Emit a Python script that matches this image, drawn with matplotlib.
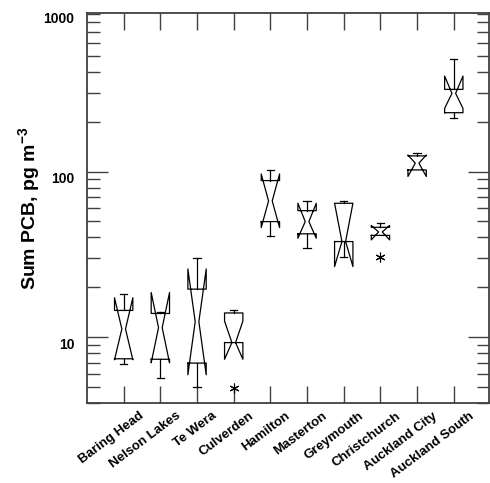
import matplotlib
matplotlib.use('Agg')
import matplotlib.pyplot as plt
from matplotlib.ticker import LogLocator, NullFormatter, FixedLocator
from matplotlib.transforms import ScaledTranslation

plt.rcParams['font.family'] = 'Liberation Sans'
plt.rcParams['mathtext.fontset'] = 'custom'
plt.rcParams['mathtext.bf'] = 'Liberation Sans:bold'
plt.rcParams['mathtext.rm'] = 'Liberation Sans:bold'
plt.rcParams['mathtext.default'] = 'bf'

# sites and notched box statistics (pg m-3)
sites = ['Baring Head', 'Nelson Lakes', 'Te Wera', 'Culverden', 'Hamilton',
         'Masterton', 'Greymouth', 'Christchurch', 'Auckland City', 'Auckland South']
whis_hi = [18.3, 14.1, 30.0, 14.5, 102.4, 66.8, 66.8, 48.8, 129, 477]
notch_hi = [17.3, 18.6, 25.8, 12.5, 96.8, 64.4, 64.4, 47.3, 126, 378]
q3 = [14.5, 13.9, 19.5, 14.0, 88.3, 58.1, 64.4, 46.1, 124.5, 314]
median = [11.2, 11.4, 12.4, 9.27, 66.5, 49.9, 37.8, 43.2, 112.5, 297]
q1 = [7.4, 7.35, 6.97, 9.27, 49.9, 42.1, 37.8, 41.2, 102.4, 227]
notch_lo = [7.3, 7.0, 5.92, 7.35, 45.9, 39.6, 26.7, 38.7, 93.5, 241]
whis_lo = [6.9, 5.65, 5.03, 9.27, 40.9, 34.5, 30.4, 41.2, 102.4, 210]
outlier_site = ['Culverden', 'Christchurch']
outlier_val = [4.96, 30.3]

fig = plt.figure(figsize=(4.9, 4.83), dpi=100)
ax = fig.add_axes([87 / 490, 80 / 483, 402 / 490, 389.7 / 483])

hw = 0.25    # half box width
nw = 0.05    # half width at the notch
cw = 0.1     # half cap width
lc = 'black'
lw = 0.9

for i in range(len(sites)):
    x = i + 1
    L, R = x - hw, x + hw
    xs = [L, R, R, x + nw, R, R, L, L, x - nw, L, L]
    ys = [q1[i], q1[i], notch_lo[i], median[i], notch_hi[i], q3[i], q3[i],
          notch_hi[i], median[i], notch_lo[i], q1[i]]
    ax.plot(xs, ys, color=lc, lw=lw)
    if whis_hi[i] > q3[i]:
        ax.plot([x, x], [q3[i], whis_hi[i]], color=lc, lw=lw)
        ax.plot([x - cw, x + cw], [whis_hi[i], whis_hi[i]], color=lc, lw=lw)
    if whis_lo[i] < q1[i]:
        ax.plot([x, x], [q1[i], whis_lo[i]], color=lc, lw=lw)
        ax.plot([x - cw, x + cw], [whis_lo[i], whis_lo[i]], color=lc, lw=lw)

ox = [sites.index(s) + 1 for s in outlier_site]
ax.plot(ox, outlier_val, ls='none', marker=(6, 2, 0), ms=7, mew=0.8, color=lc)

ax.set_yscale('log')
ax.set_ylim(4.0, 905)
ax.set_xlim(0, 10.96)

ax.yaxis.set_major_locator(FixedLocator([10, 100]))
ax.yaxis.set_minor_locator(LogLocator(base=10, subs=range(2, 10)))
ax.yaxis.set_minor_formatter(NullFormatter())
ax.set_yticklabels(['10', '100'], fontsize=10, fontweight='bold')

ax.set_xticks(range(1, len(sites) + 1))
ax.set_xticklabels(sites, rotation=37, ha='right', va='top', rotation_mode='anchor',
                   fontsize=9.5, fontweight='bold')

ax.tick_params(axis='both', which='both', direction='in', top=True, right=True,
               color='#404040', width=1)
ax.tick_params(axis='x', length=12, pad=5)
ax.tick_params(axis='y', which='major', length=15, pad=9)
ax.tick_params(axis='y', which='minor', length=9)

for lab in ax.get_xticklabels():
    lab.set_transform(lab.get_transform() + ScaledTranslation(0.15, 0, fig.dpi_scale_trans))
for lab in ax.get_yticklabels():
    lab.set_transform(lab.get_transform() + ScaledTranslation(0, -0.06, fig.dpi_scale_trans))

# top label of the y axis
ax.text(-13 / 402, 1.0, '1000',
        transform=ax.transAxes + ScaledTranslation(0, -0.06, fig.dpi_scale_trans),
        ha='right', va='center', fontsize=10, fontweight='bold')

for sp in ax.spines.values():
    sp.set_color('#404040')
    sp.set_linewidth(1.3)

ax.set_ylabel('Sum PCB, pg m$^{-3}$', fontsize=14, fontweight='bold')
ax.yaxis.set_label_coords(-0.112, 0.5)

fig.savefig('out.png', dpi=100)
